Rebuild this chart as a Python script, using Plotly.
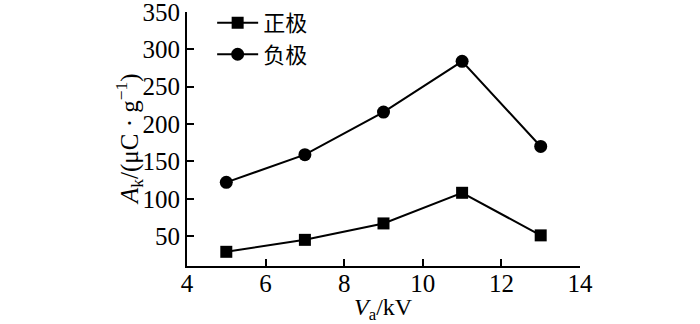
import plotly.graph_objects as go

# Accelerating voltage (kV)
voltage = [5, 7, 9, 11, 13]
# Charge-to-mass ratio for each electrode polarity (μC/g)
positive = [29, 45, 67, 108, 51]
negative = [122, 159, 216, 284, 170]

series_names = ["正极", "负极"]
x_ticks = [4, 6, 8, 10, 12, 14]
y_ticks = [50, 100, 150, 200, 250, 300, 350]
x_title = "<i>V</i><sub>a</sub>/kV"
y_title = "<i>A</i><sub>k</sub>/(μC · g<sup>−1</sup>)"

serif = "'Times New Roman', 'Liberation Serif', serif"
cjk = "Noto Sans CJK SC"

fig = go.Figure()
fig.add_trace(go.Scatter(
    x=voltage, y=positive, name=series_names[0], mode="lines+markers",
    line=dict(color="black", width=2),
    marker=dict(symbol="square", size=12, color="black"),
))
fig.add_trace(go.Scatter(
    x=voltage, y=negative, name=series_names[1], mode="lines+markers",
    line=dict(color="black", width=2),
    marker=dict(symbol="circle", size=13, color="black"),
))

axis_style = dict(
    ticks="inside", ticklen=7, tickwidth=2, tickcolor="black",
    showline=True, linecolor="black", linewidth=2,
    showgrid=False, zeroline=False, ticklabeloverflow="allow",
    tickfont=dict(family=serif, size=25),
)

fig.update_layout(
    width=700, height=324,
    margin=dict(l=187, r=120, t=12, b=58, autoexpand=False),
    paper_bgcolor="white", plot_bgcolor="white",
    font=dict(family=serif, size=24, color="black"),
    showlegend=True,
    legend=dict(
        x=0.064, y=1.04, xanchor="left", yanchor="top",
        bgcolor="rgba(0,0,0,0)", font=dict(family=cjk, size=22, color="black"),
        itemwidth=41, tracegroupgap=0,
    ),
    xaxis=dict(range=[4, 14], tickvals=x_ticks, ticklabelstandoff=-6, **axis_style),
    yaxis=dict(range=[10, 350], tickvals=y_ticks, **axis_style),
    annotations=[
        # axis titles placed in paper pixels below / left of the plot area
        dict(text=x_title, xref="paper", yref="paper", x=0.5, y=0,
             xanchor="center", yanchor="middle", yshift=-43, showarrow=False,
             font=dict(family=serif, size=24)),
        dict(text=y_title, xref="paper", yref="paper", x=0, y=0.5,
             xanchor="center", yanchor="middle", xshift=-58, textangle=-90,
             showarrow=False, font=dict(family=serif, size=25)),
    ],
)

fig.write_html("out.html")
